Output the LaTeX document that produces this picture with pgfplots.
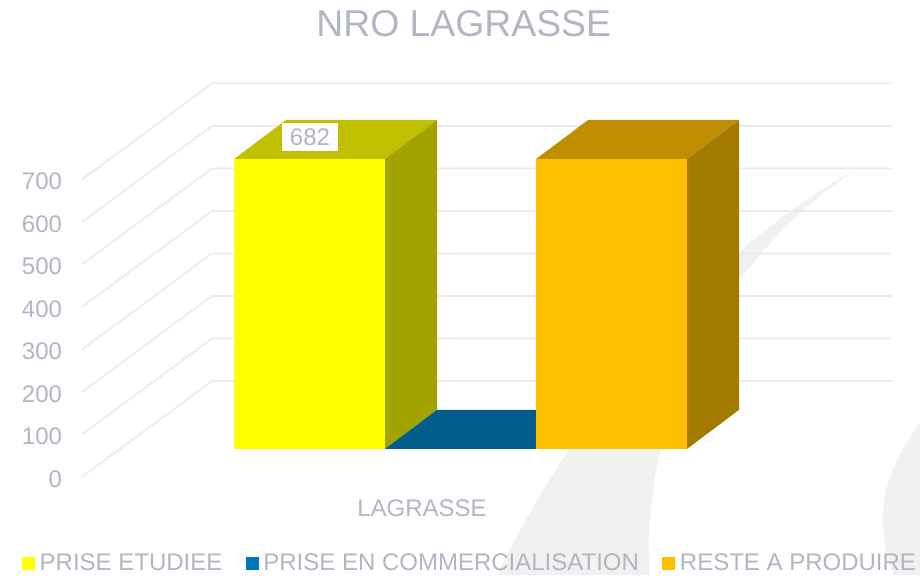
\documentclass[border=0pt]{standalone}
\usepackage{fontspec}
\setmainfont{Liberation Sans}
\usepackage{pgfplots}
\pgfplotsset{compat=1.18}

\definecolor{txt}{HTML}{B2B5C3}
\definecolor{gridc}{HTML}{EBEBED}
\definecolor{swoosh}{HTML}{F1F1F1}
\definecolor{yfront}{HTML}{FFFF00}
\definecolor{yside}{HTML}{A3A300}
\definecolor{ytop}{HTML}{C0C000}
\definecolor{ofront}{HTML}{FFC000}
\definecolor{oside}{HTML}{A37A00}
\definecolor{otop}{HTML}{C08E00}
\definecolor{btop}{HTML}{005C8A}
\definecolor{bleg}{HTML}{0077B8}

\begin{document}
\begin{tikzpicture}
% page is 920x575 "pixels", y measured from the bottom
\begin{scope}[x=0.75pt,y=0.75pt]
\path[use as bounding box] (0,0) rectangle (920,575);
% background swooshes
\fill[swoosh] (855,405) .. controls (700,320) and (570,150) .. (497,0)
  -- (650,0) .. controls (640,130) and (700,300) .. (855,405) -- cycle;
\fill[swoosh] (920,152) .. controls (890,110) and (870,70) .. (893,0)
  -- (920,0) -- cycle;
\end{scope}
\begin{axis}[
  at={(48.75pt,73.5pt)},
  anchor=south west,
  scale only axis,
  width=626.25pt,
  height=295.25pt,
  xmin=65, xmax=900,
  ymin=0, ymax=926.2,
  clip=false,
  axis line style={draw=none},
  major tick length=0pt,
  ytick={0,100,200,300,400,500,600,700},
  xtick={422},
  xticklabels={LAGRASSE},
  /pgf/number format/assume math mode=true,
  ticklabel style={font=\fontsize{18}{20}\selectfont, text=txt},
  x tick label style={yshift=-13.25pt},
  y tick label style={xshift=1.25pt, yshift=-1.6pt},
  title={NRO LAGRASSE},
  title style={at={(0.4775,1.1325)}, anchor=center, font=\fontsize{28}{30}\selectfont, text=txt},
  legend columns=3,
  legend style={at={(-0.0515,-0.2188)}, anchor=west, draw=none, fill=none,
    font=\fontsize{18}{20}\selectfont, text=txt, inner sep=0pt, outer sep=0pt,
    /tikz/every even column/.append style={column sep=15.5pt}},
  legend image code/.code={\path (0pt,0pt) -- (11.25pt,0pt);
    \fill[#1] (0pt,-4.9pt) rectangle (9.75pt,4.9pt);},
]
% walls: side wall from the front then along the back
\addplot[gridc, line width=1.3pt, forget plot] coordinates {(82,0) (212,226) (892,226)};
\addplot[gridc, line width=1.3pt, forget plot] coordinates {(82,100) (212,326) (892,326)};
\addplot[gridc, line width=1.3pt, forget plot] coordinates {(82,200) (212,426) (892,426)};
\addplot[gridc, line width=1.3pt, forget plot] coordinates {(82,300) (212,526) (892,526)};
\addplot[gridc, line width=1.3pt, forget plot] coordinates {(82,400) (212,626) (892,626)};
\addplot[gridc, line width=1.3pt, forget plot] coordinates {(82,500) (212,726) (892,726)};
\addplot[gridc, line width=1.3pt, forget plot] coordinates {(82,600) (212,826) (892,826)};
\addplot[gridc, line width=1.3pt, forget plot] coordinates {(82,700) (212,926) (892,926)};

% yellow bar, 682
\addplot[fill=ytop, draw=none, forget plot] coordinates {(234,748) (286,840) (437,840) (385,748)} -- cycle;
\addplot[fill=yside, draw=none, forget plot] coordinates {(385,66) (437,158) (437,840) (385,748)} -- cycle;
\addplot[fill=yfront, draw=none, forget plot] coordinates {(234,66) (385,66) (385,748) (234,748)} -- cycle;
% blue bar, 0: only the top shows
\addplot[fill=btop, draw=none, forget plot] coordinates {(385,66) (437,158) (588,158) (536,66)} -- cycle;
% orange bar, 682
\addplot[fill=otop, draw=none, forget plot] coordinates {(536,748) (588,840) (739,840) (687,748)} -- cycle;
\addplot[fill=oside, draw=none, forget plot] coordinates {(687,66) (739,158) (739,840) (687,748)} -- cycle;
\addplot[fill=ofront, draw=none, forget plot] coordinates {(536,66) (687,66) (687,748) (536,748)} -- cycle;

% data label
\addplot[draw=none, forget plot, nodes near coords, point meta=y,
  nodes near coords style={anchor=center, yshift=37.5pt, fill=white, text=txt,
    font=\fontsize{18}{20}\selectfont, minimum width=42pt, minimum height=21.5pt,
    inner sep=0pt, /pgf/number format/assume math mode=true}]
  coordinates {(310,682)};

\addlegendimage{fill=yfront, draw=none}
\addlegendentry{PRISE ETUDIEE}
\addlegendimage{fill=bleg, draw=none}
\addlegendentry{PRISE EN COMMERCIALISATION}
\addlegendimage{fill=ofront, draw=none}
\addlegendentry{RESTE A PRODUIRE}
\end{axis}
\end{tikzpicture}
\end{document}
